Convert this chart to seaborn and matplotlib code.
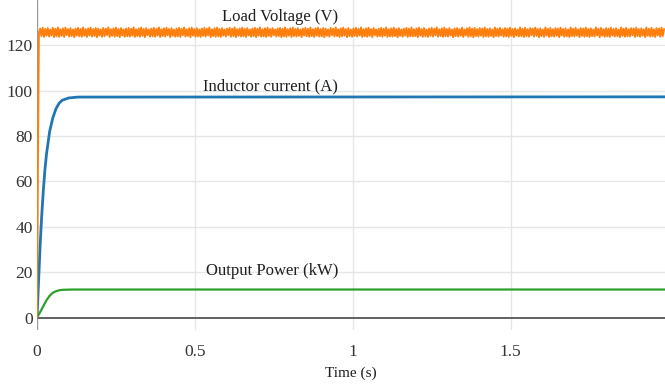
import numpy as np
import pandas as pd
import matplotlib
matplotlib.use("Agg")
import matplotlib.pyplot as plt
import seaborn as sns

# Simulated converter start-up: load voltage, inductor current and output power
voltage_rise_time = [0.0, 0.003, 0.006]
voltage_rise = [0.0, 70.0, 125.5]

# Load-voltage ripple samples after start-up (one sample every 4 ms)
voltage_ripple = [
    127.4, 124.1, 127.8, 123.7, 127.2, 124.3, 127.6, 123.9, 127.0, 124.4, 127.7, 123.6, 127.3, 124.0, 127.9,
    123.8, 127.1, 124.2, 127.5, 123.7, 127.8, 124.5, 127.2, 123.9, 127.6, 124.1, 127.0, 123.6, 127.4, 124.3,
    127.7, 124.0, 127.3, 123.8, 127.9, 124.2, 127.1, 123.7, 127.5, 124.4, 127.8, 123.9, 127.2, 124.1, 127.6,
    123.6, 127.4, 124.3, 127.0, 123.8, 127.7, 124.0, 127.3, 124.5, 127.9, 123.7, 127.1, 124.2, 127.5, 123.9,
    127.8, 124.1, 127.2, 123.6, 127.6, 124.4, 127.0, 123.8, 127.4, 124.0, 127.7, 123.9, 127.3, 124.3, 127.9,
    123.7, 127.1, 124.1, 127.5, 123.8, 127.8, 124.2, 127.2, 123.6, 127.6, 124.5, 127.0, 123.9, 127.4, 124.0,
    127.7, 123.8, 127.3, 124.3, 127.9, 123.7, 127.1, 124.1, 127.5, 123.9, 127.8, 124.4, 127.2, 123.6, 127.6,
    124.2, 127.0, 123.8, 127.4, 124.0, 127.7, 123.7, 127.3, 124.5, 127.9, 123.9, 127.1, 124.1, 127.5, 123.6,
    127.8, 124.3, 127.2, 123.8, 127.6, 124.0, 127.0, 123.7, 127.4, 124.2, 127.7, 123.9, 127.3, 124.4, 127.9,
    123.6, 127.1, 124.1, 127.5, 123.8, 127.8, 124.0, 127.2, 123.7, 127.6, 124.3, 127.0, 123.9, 127.4, 124.5,
    127.7, 123.8, 127.3, 124.1, 127.9, 123.6, 127.1, 124.2, 127.5, 123.9, 127.8, 124.0, 127.2, 123.7, 127.6,
    124.4, 127.0, 123.8, 127.4, 124.1, 127.7, 123.6, 127.3, 124.3, 127.9, 123.9, 127.1, 124.0, 127.5, 123.7,
    127.8, 124.2, 127.2, 123.8, 127.6, 124.5, 127.0, 123.9, 127.4, 124.1, 127.7, 123.6, 127.3, 124.0, 127.9,
    123.8, 127.1, 124.3, 127.5, 123.7, 127.8, 124.1, 127.2, 123.9, 127.6, 124.2, 127.0, 123.6, 127.4, 124.4,
    127.7, 124.0, 127.3, 123.8, 127.9, 124.1, 127.1, 123.7, 127.5, 124.3, 127.8, 123.9, 127.2, 124.0, 127.6,
    123.6, 127.4, 124.2, 127.0, 123.8, 127.7, 124.5, 127.3, 123.9, 127.9, 124.1, 127.1, 123.7, 127.5, 124.0,
    127.8, 124.3, 127.2, 123.6, 127.6, 124.1, 127.0, 123.8, 127.4, 124.2, 127.7, 123.9, 127.3, 124.4, 127.9,
    123.7, 127.1, 124.0, 127.5, 123.8, 127.8, 124.2, 127.2, 123.6, 127.6, 124.5, 127.0, 123.9, 127.4, 124.1,
    127.7, 123.8, 127.3, 124.3, 127.9, 123.7, 127.1, 124.0, 127.5, 123.9, 127.8, 124.1, 127.2, 123.6, 127.6,
    124.2, 127.0, 123.8, 127.4, 124.4, 127.7, 123.7, 127.3, 124.0, 127.9, 123.9, 127.1, 124.1, 127.5, 123.6,
    127.8, 124.3, 127.2, 123.8, 127.6, 124.0, 127.0, 123.7, 127.4, 124.2, 127.7, 123.9, 127.3, 124.5, 127.9,
    123.8, 127.1, 124.1, 127.5, 123.7, 127.8, 124.0, 127.2, 123.9, 127.6, 124.3, 127.0, 123.6, 127.4, 124.1,
    127.6, 123.9, 127.2, 124.2, 127.8, 123.7, 127.0, 124.4, 127.5, 123.8, 127.9, 124.0, 127.3, 123.6, 127.7,
    124.1, 127.1, 123.9, 127.6, 124.3, 127.4, 123.7, 127.8, 124.0, 127.2, 123.8, 127.5, 124.2, 127.0, 123.6,
    127.9, 124.1, 127.3, 123.9, 127.7, 124.4, 127.1, 123.8, 127.6, 124.0, 127.4, 123.7, 127.8, 124.2, 127.2,
    123.6, 127.5, 124.3, 127.0, 123.9, 127.9, 124.1, 127.3, 123.7, 127.7, 124.0, 127.1, 123.8, 127.6, 124.5,
    127.4, 123.9, 127.8, 124.2, 127.2, 123.6, 127.5, 124.1, 127.0, 123.8, 127.9, 124.3, 127.3, 123.7, 127.7,
    124.0, 127.1, 123.9, 127.6, 124.2, 127.4, 123.6, 127.8, 124.4, 127.2, 123.8, 127.5, 124.0, 127.0, 123.7,
    127.9, 124.1, 127.3, 123.9, 127.7, 124.3, 127.1, 123.6, 127.6, 124.2, 127.4, 123.8, 127.8, 124.0, 127.2,
    123.7, 127.5, 124.1, 127.0, 123.9, 127.9, 124.4, 127.3, 123.6, 127.7, 124.2, 127.1, 123.8, 127.6, 124.0,
    127.4, 123.7, 127.8, 124.3, 127.2, 123.9, 127.5, 124.1, 127.0, 123.6, 127.9, 124.2, 127.3, 123.8, 127.7,
    124.0, 127.1, 123.9, 127.6, 124.5, 127.4, 123.7, 127.8, 124.1, 127.2, 123.8, 127.5, 124.3, 127.0, 123.6,
    127.9, 124.2, 127.3, 123.9, 127.7, 124.0, 127.1, 123.7, 127.6, 124.4, 127.4, 123.8, 127.8, 124.1, 127.2,
]
ripple_start, ripple_step = 0.010, 0.004

current_time = [0.0, 0.005, 0.01, 0.015, 0.02, 0.025, 0.03, 0.04, 0.05, 0.06, 0.07, 0.08, 0.1, 0.13, 2.0]
inductor_current = [0.0, 16.0, 32.0, 45.0, 56.0, 65.0, 72.0, 82.0, 88.0, 92.0, 94.5, 95.8, 96.8, 97.2, 97.3]

power_time = [0.0, 0.01, 0.02, 0.03, 0.04, 0.05, 0.06, 0.07, 0.08, 0.1, 0.12, 2.0]
output_power = [0.0, 2.4, 5.0, 7.6, 9.6, 10.9, 11.6, 12.0, 12.2, 12.3, 12.35, 12.35]

x_ticks = [0, 0.5, 1, 1.5]
x_tick_labels = ["0", "0.5", "1", "1.5"]
y_ticks = [0, 20, 40, 60, 80, 100, 120]

series_labels = ["Load Voltage (V)", "Inductor current (A)", "Output Power (kW)"]
label_pos = [(0.77, 132.6), (0.738, 102.0), (0.744, 20.3)]

ripple_time = ripple_start + ripple_step * np.arange(len(voltage_ripple))
voltage_df = pd.DataFrame({
    "t": np.concatenate([voltage_rise_time, ripple_time]),
    "v": np.concatenate([voltage_rise, voltage_ripple]),
})
current_df = pd.DataFrame({"t": current_time, "v": inductor_current})
power_df = pd.DataFrame({"t": power_time, "v": output_power})

sns.set_style("white")
plt.rcParams["font.family"] = ["Liberation Serif", "DejaVu Serif"]

fig = plt.figure(figsize=(6.65, 3.87), dpi=100)
ax = fig.add_axes([37 / 665, 1 - 330 / 387, 628 / 665, 330 / 387])

ax.set_xlim(0, 1.989)
ax.set_ylim(-5.5, 140)

# light grid plus darker zero lines
for t in [0.5, 1, 1.5]:
    ax.axvline(t, color="#e6e6e6", lw=1, zorder=0)
for y in y_ticks[1:]:
    ax.axhline(y, color="#e6e6e6", lw=1, zorder=0)
ax.axvline(0, color="#9a9a9a", lw=1, zorder=1)
ax.axhline(0, color="#555555", lw=1.3, zorder=1)

sns.lineplot(data=power_df, x="t", y="v", ax=ax, color="#2ca02c", lw=1.6, zorder=3)
sns.lineplot(data=current_df, x="t", y="v", ax=ax, color="#1f77b4", lw=2.0, zorder=3)
sns.lineplot(data=voltage_df, x="t", y="v", ax=ax, color="#ff7f0e", lw=1.4, zorder=4)

for label, (lx, ly) in zip(series_labels, label_pos):
    ax.text(lx, ly, label, ha="center", va="center", fontsize=12, color="#1e1e1e")

for s in ax.spines.values():
    s.set_visible(False)
ax.set_xticks(x_ticks)
ax.set_xticklabels(x_tick_labels)
ax.set_yticks(y_ticks)
ax.tick_params(axis="both", length=0, labelsize=12.5, colors="#333333")
ax.tick_params(axis="x", pad=10)
ax.tick_params(axis="y", pad=3)
ax.set_xlabel("Time (s)", fontsize=11, color="#1e1e1e", labelpad=5)
ax.set_ylabel("")

fig.savefig("out.png", dpi=100)
